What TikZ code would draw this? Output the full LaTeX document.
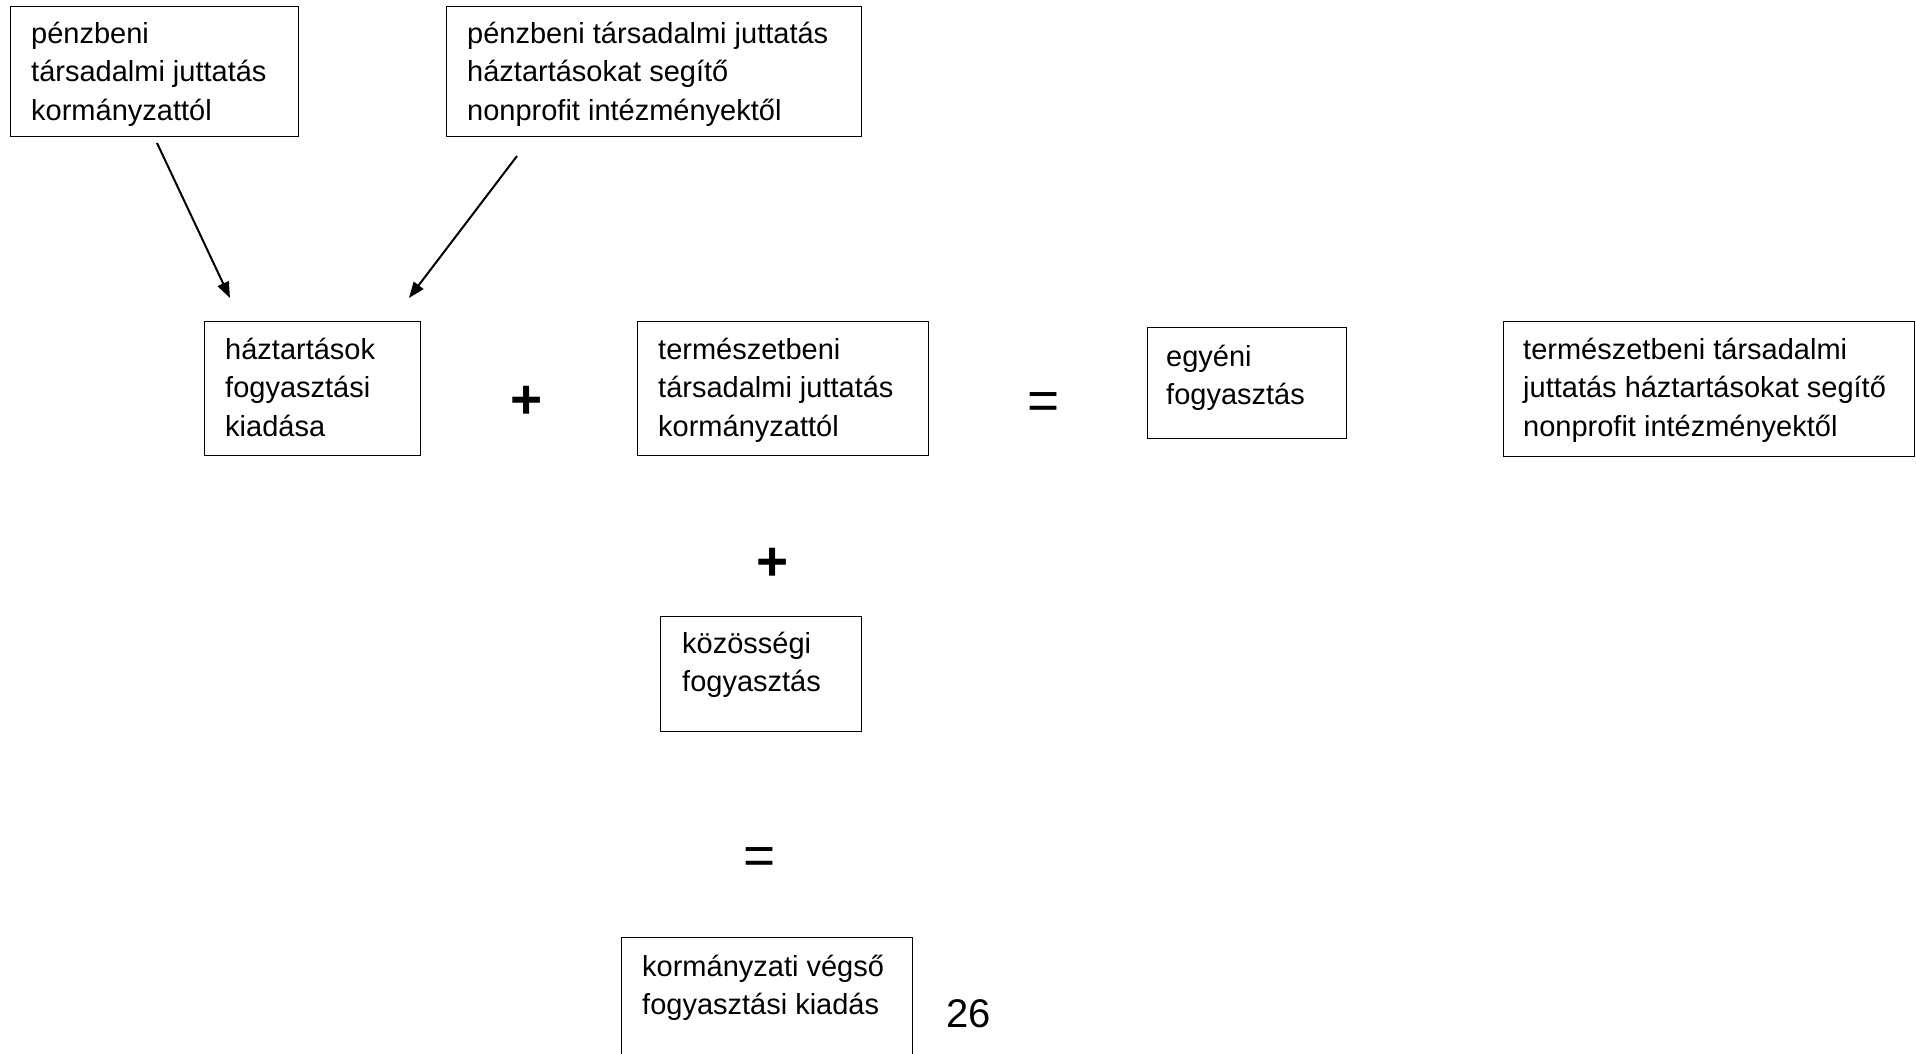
\documentclass[tikz,border=0pt]{standalone}
\usepackage{fontspec}
\setmainfont{Liberation Sans}
\usetikzlibrary{arrows.meta}
\newcommand{\tstrut}{\rule{0pt}{30pt}}
\begin{document}
\begin{tikzpicture}[x=1pt,y=-1pt,
  box/.style={draw, line width=1.4pt, rectangle, inner sep=0pt, anchor=north west},
  txt/.style={font=\fontsize{29}{38.5}\selectfont, align=left, inner sep=0pt, anchor=north west},
  sym/.style={font=\fontsize{55}{60}\selectfont, inner sep=0pt, anchor=base},
  arr/.style={line width=2pt, -{Triangle[length=16pt,width=12pt]}}]
\useasboundingbox (0,0) rectangle (1916,1053);
\fill[white] (0,0) rectangle (1916,1053);

% boxes
\node[box, minimum width=288pt, minimum height=130pt] (b1) at (10,6) {};
\node[txt] (t1) at (31,13) {\tstrut pénzbeni\\társadalmi juttatás\\kormányzattól};

\node[box, minimum width=415pt, minimum height=130pt] (b2) at (446,6) {};
\node[txt] (t2) at (467,13) {\tstrut pénzbeni társadalmi juttatás\\háztartásokat segítő\\nonprofit intézményektől};

\node[box, minimum width=216pt, minimum height=134pt] (b3) at (204,321) {};
\node[txt] (t3) at (225,329) {\tstrut háztartások\\fogyasztási\\kiadása};

\node[box, minimum width=291pt, minimum height=134pt] (b4) at (637,321) {};
\node[txt] (t4) at (658,329) {\tstrut természetbeni\\társadalmi juttatás\\kormányzattól};

\node[box, minimum width=199pt, minimum height=111pt] (b5) at (1147,327) {};
\node[txt] (t5) at (1166,336) {\tstrut egyéni\\fogyasztás};

\node[box, minimum width=411pt, minimum height=135pt] (b6) at (1503,321) {};
\node[txt] (t6) at (1523,329) {\tstrut természetbeni társadalmi\\juttatás háztartásokat segítő\\nonprofit intézményektől};

\node[box, minimum width=201pt, minimum height=115pt] (b7) at (660,616) {};
\node[txt] (t7) at (682,623) {\tstrut közösségi\\fogyasztás};

\node[box, minimum width=291pt, minimum height=150pt] (b8) at (621,937) {};
\node[txt] (t8) at (642,946) {\tstrut kormányzati végső\\fogyasztási kiadás};

\node[font=\fontsize{40}{44}\selectfont, inner sep=0pt, anchor=base west] (pg) at (946,1027) {26};

% operators
\node[sym, font=\fontsize{55}{60}\selectfont\bfseries] (p1) at (527,418) {+};
\node[sym] (e1) at (1044,419) {=};
\node[sym, font=\fontsize{55}{60}\selectfont\bfseries] (p2) at (773,580) {+};
\node[sym] (e2) at (760,874) {=};

% arrows
\coordinate (a1s) at (157,143);
\coordinate (a1e) at (230,298);
\coordinate (a2s) at (517,156);
\coordinate (a2e) at (409,298);
\draw[arr] (a1s) -- (a1e);
\draw[arr] (a2s) -- (a2e);
\end{tikzpicture}
\end{document}
